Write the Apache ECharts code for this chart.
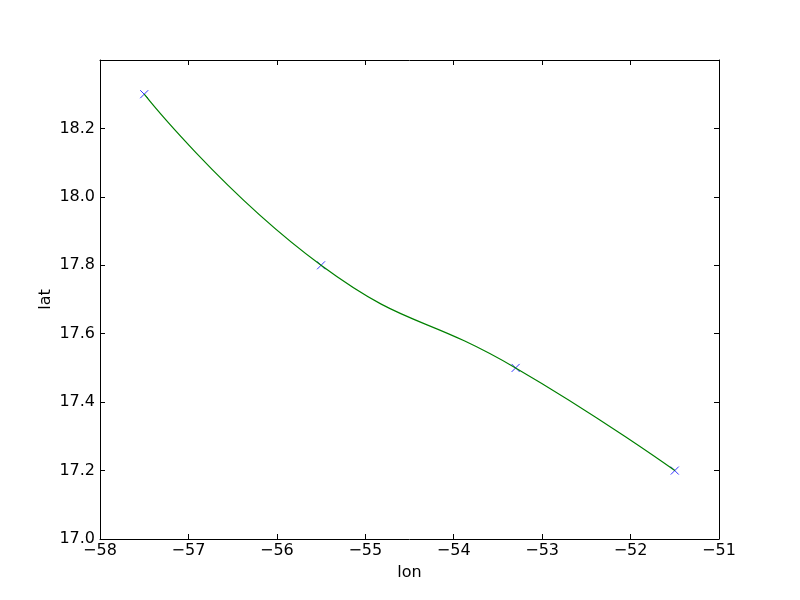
<!DOCTYPE html>
<html><head><meta charset="utf-8">
<script src="https://cdn.jsdelivr.net/npm/echarts@6/dist/echarts.min.js"></script>
<style>html,body{margin:0;padding:0;background:#fff}#c{width:800px;height:600px}</style>
</head><body><div id="c"></div>
<script>
const lon = [-57.5, -55.5, -53.3, -51.5];
const lat = [18.3, 17.8, 17.5, 17.2];
const xTicks = [-58, -57, -56, -55, -54, -53, -52, -51];
const yTicks = [17.0, 17.2, 17.4, 17.6, 17.8, 18.0, 18.2];

const pts = lon.map((x, i) => [x, lat[i]]);
const fnt = {fontFamily: 'DejaVu Sans', fontSize: 16, color: '#000'};
const minus = s => String(s).replace('-', '\u2212');
const chart = echarts.init(document.getElementById('c'));
const axLine = {show: true, lineStyle: {color: '#000', width: 1}};
const tick = {show: true, inside: true, length: 5, lineStyle: {color: '#000'}};
chart.setOption({
  animation: false,
  grid: {left: 100, right: 81, top: 60, bottom: 61},
  xAxis: [{
    type: 'value', min: -58, max: -51, interval: 1,
    name: 'lon', nameLocation: 'middle', nameGap: 26, nameMoveOverlap: false,
    nameTextStyle: fnt,
    axisLine: axLine, axisTick: tick, splitLine: {show: false},
    axisLabel: Object.assign({margin: 4, formatter: v => minus(v)}, fnt)
  }, {
    type: 'value', position: 'top', min: -58, max: -51, interval: 1,
    axisLine: axLine, axisTick: tick, splitLine: {show: false}, axisLabel: {show: false}
  }],
  yAxis: [{
    type: 'value', min: 17.0, max: 18.4, interval: 0.2,
    name: 'lat', nameLocation: 'middle', nameGap: 46, nameRotate: 90, nameMoveOverlap: false,
    nameTextStyle: fnt,
    axisLine: axLine, axisTick: tick, splitLine: {show: false},
    axisLabel: Object.assign({margin: 5, formatter: v => (v >= 18.39 ? '' : v.toFixed(1))}, fnt)
  }, {
    type: 'value', position: 'right', min: 17.0, max: 18.4, interval: 0.2,
    axisLine: axLine, axisTick: tick, splitLine: {show: false}, axisLabel: {show: false}
  }],
  series: [{
    type: 'line', data: pts, smooth: 0.5, showSymbol: false,
    lineStyle: {color: '#008000', width: 1.2}
  }, {
    type: 'scatter', data: pts,
    symbol: 'path://M0,0L10,10M10,0L0,10', symbolSize: 8,
    itemStyle: {color: 'rgba(0,0,0,0)', borderColor: '#0000ff', borderWidth: 1}
  }]
});
</script></body></html>
